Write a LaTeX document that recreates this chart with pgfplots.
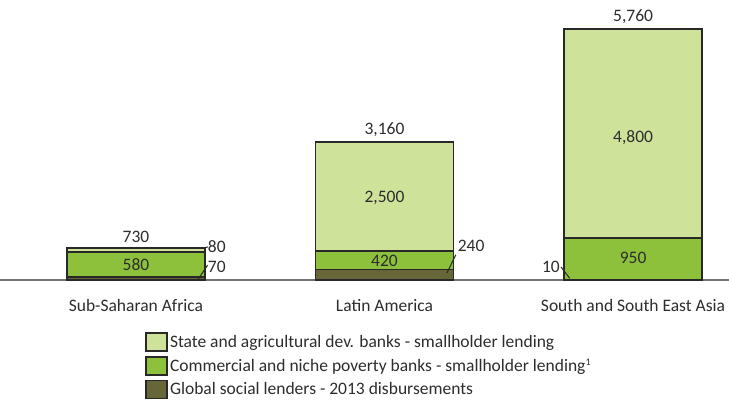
\documentclass[border=0pt]{standalone}
\usepackage{fontspec}
\setmainfont{Carlito}
\usepackage{pgfplots}
\pgfplotsset{compat=1.18}

\definecolor{stategreen}{RGB}{206,226,154}
\definecolor{commgreen}{RGB}{141,193,60}
\definecolor{socialolive}{RGB}{102,102,56}
\definecolor{edge}{RGB}{40,40,40}
\definecolor{txt}{RGB}{45,45,45}
\newcommand\lbl{\fontsize{17.5}{20}\selectfont}

\begin{document}
\begin{tikzpicture}[x=1pt,y=1pt]
\useasboundingbox (0,0) rectangle (729,403);
\begin{axis}[
  at={(0pt,123pt)}, anchor=south west,
  scale only axis, width=729pt, height=280pt,
  xmin=-0.547, xmax=2.386, ymin=0, ymax=6425,
  ybar stacked, bar width=138pt,
  axis y line=none, axis x line=bottom,
  x axis line style={-, draw=black!55, line width=1.3pt},
  xtick={0,1,2},
  xticklabels={Sub-Saharan Africa, Latin America, South and South East Asia},
  major tick length=0pt,
  xticklabel style={font=\lbl, text=txt, yshift=-16pt},
  legend style={at={(axis description cs:0.1948,-0.178)}, anchor=north west,
    draw=none, fill=none, row sep=4pt,
    font=\lbl, text=txt,
    nodes={inner sep=2pt}},
  legend cell align=left,
  reverse legend,
  legend image code/.code={\draw[#1, line width=1.8pt] (0pt,-9pt) rectangle (21pt,9pt);},
  clip=false,
]
% bottom to top: social lenders, commercial banks, state banks
\addplot[fill=socialolive, draw=edge, line width=1.9pt]
  coordinates {(0,70) (1,240) (2,10)};
\addplot[fill=commgreen, draw=edge, line width=1.9pt]
  coordinates {(0,580) (1,420) (2,950)};
\addplot[fill=stategreen, draw=edge, line width=1.9pt]
  coordinates {(0,80) (1,2500) (2,4800)};
\legend{Global social lenders - 2013 disbursements,
  Commercial and niche poverty banks - smallholder lending\textsuperscript{\fontsize{10}{10}\selectfont 1},
  State and agricultural dev. banks - smallholder lending}

% anchor points for the value labels
\coordinate (t0) at (axis cs:0,730);
\coordinate (t1) at (axis cs:1,3160);
\coordinate (t2) at (axis cs:2,5760);
\coordinate (m0) at (axis cs:0,360);
\coordinate (m1) at (axis cs:1,450);
\coordinate (s1) at (axis cs:1,1880);
\coordinate (m2) at (axis cs:2,500);
\coordinate (s2) at (axis cs:2,3260);
\coordinate (a80) at (axis cs:0.265,720);
\coordinate (b80) at (axis cs:0.29,760);
\coordinate (l80) at (axis cs:0.285,770);
\coordinate (a70) at (axis cs:0.25,15);
\coordinate (b70) at (axis cs:0.288,340);
\coordinate (l70) at (axis cs:0.285,290);
\coordinate (a240) at (axis cs:1.251,160);
\coordinate (b240) at (axis cs:1.287,580);
\coordinate (l240) at (axis cs:1.29,790);
\coordinate (a10) at (axis cs:1.71,300);
\coordinate (b10) at (axis cs:1.745,40);
\coordinate (l10) at (axis cs:1.71,310);
\end{axis}

\begin{scope}[every node/.style={font=\lbl, text=txt}]
% totals
\node[anchor=south, yshift=2pt] at (t0) {730};
\node[anchor=south, yshift=2pt] at (t1) {3,160};
\node[anchor=south, yshift=2pt] at (t2) {5,760};
% segment values inside the bars
\node at (m0) {580};
\node at (m1) {420};
\node at (s1) {2,500};
\node at (m2) {950};
\node at (s2) {4,800};
% small segments labelled beside the bars
\draw[edge, line width=1pt] (a80) -- (b80);
\node[anchor=west, inner sep=1pt] at (l80) {80};
\draw[edge, line width=1pt] (a70) -- (b70);
\node[anchor=west, inner sep=1pt] at (l70) {70};
\draw[edge, line width=1pt] (a240) -- (b240);
\node[anchor=west, inner sep=1pt] at (l240) {240};
\draw[edge, line width=1pt] (a10) -- (b10);
\node[anchor=east, inner sep=1pt] at (l10) {10};
\end{scope}
\end{tikzpicture}
\end{document}
